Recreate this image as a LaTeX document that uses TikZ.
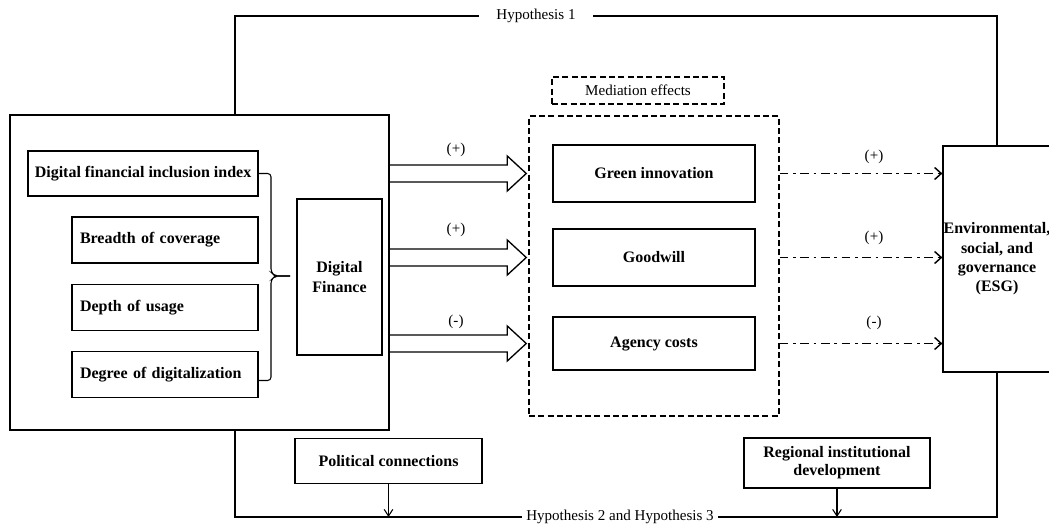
\documentclass[tikz,border=0pt]{standalone}
\usepackage{fontspec}
\setmainfont{Liberation Serif}
\usetikzlibrary{arrows.meta,calc}
\newcommand{\hollowarr}[2]{%
  \draw[line width=1pt,line join=miter]
    ($(#1)+(0,-8.5)$) -- ($(#2)+(-19,-8.5)$) -- ($(#2)+(-19,-17.5)$) -- (#2)
    -- ($(#2)+(-19,17.5)$) -- ($(#2)+(-19,8.5)$) -- ($(#1)+(0,8.5)$);}
\begin{document}
\begin{tikzpicture}[x=0.75pt,y=-0.75pt,
  box/.style={draw,line width=0.9pt,inner sep=0pt,font=\bfseries\fontsize{12}{14.5}\selectfont,align=center},
  lbox/.style={box,inner xsep=6pt,text width=127.5pt,align=left,minimum height=34.5pt},
  dbox/.style={draw,line width=1.1pt,dash pattern=on 4.5pt off 2.5pt,inner sep=0pt},
  lbl/.style={font=\fontsize{11.3}{13}\selectfont,inner sep=1pt},
  conn/.style={line width=0.9pt},
  dd/.style={line width=1.1pt,dash pattern=on 6.5pt off 3.5pt on 2pt off 3.5pt,-{Straight Barb[length=5pt,width=9pt,line width=1.1pt]}},
  down/.style={line width=0.8pt,-{Straight Barb[length=5pt,width=6.5pt]}},
]
\useasboundingbox (0,0) rectangle (1049,524);
\begin{scope}
\clip (0,0) rectangle (1049,524);
% left block
\node[box,minimum width=284.25pt,minimum height=236.25pt] (outer) at (199.5,272.5) {};
\node[box,minimum width=172.5pt,minimum height=33.75pt] (dfi) at (143,173.5) {Digital financial inclusion index};
\node[lbox] (bre) at (165,240) {Breadth of coverage};
\node[lbox] (dep) at (165,307.5) {Depth of usage};
\node[lbox] (deg) at (165,374.5) {Degree of digitalization};
\node[box,minimum width=63.75pt,minimum height=117pt,font=\bfseries\fontsize{12}{15}\selectfont] (df) at (339.5,277) {Digital\\Finance};
% brace
\coordinate (bt) at (290,276);
\draw[line width=0.8pt,rounded corners=2.5pt] (dfi.east) -- (271,173.5) -- (271,272) -- (275,276) -- (bt);
\draw[line width=0.8pt,rounded corners=2.5pt] ($(deg.east)+(0,6)$) -- (271,380.5) -- (271,280) -- (275,276) -- (bt);
% mediation
\node[dbox,minimum width=129pt,minimum height=20.25pt,lbl] (med) at (638,90.5) {Mediation effects};
\node[dbox,minimum width=187.5pt,minimum height=225pt] (big) at (654,266) {};
\node[box,minimum width=151.5pt,minimum height=42.75pt] (gi) at (654,173.5) {Green innovation};
\node[box,minimum width=151.5pt,minimum height=42.75pt] (gw) at (654,257.5) {Goodwill};
\node[box,minimum width=151.5pt,minimum height=39.75pt] (ac) at (654,343.5) {Agency costs};
% ESG
\node[box,minimum width=81pt,minimum height=169.5pt] (esg) at (997,259) {Environmental,\\social, and\\governance\\(ESG)};
% moderators
\node[box,minimum width=140.25pt,minimum height=33.75pt] (pol) at (388.5,461) {Political connections};
\node[box,minimum width=139.5pt,minimum height=37.5pt,font=\bfseries\fontsize{12}{13.5}\selectfont] (reg) at (837,463) {Regional institutional\\development};
% hollow arrows
\foreach \t/\n in {gi/1,gw/2,ac/3}{
  \coordinate (hs\n) at (outer.east |- \t);
  \coordinate (ht\n) at ($(big.west |- \t)+(-2,0)$);
  \hollowarr{hs\n}{ht\n}
}
\node[lbl] (p1) at (456,150) {(+)};
\node[lbl] (p2) at (456,230) {(+)};
\node[lbl] (p3) at (456,322) {(-)};
% dash-dot arrows
\foreach \t in {gi,gw,ac}{
  \draw[dd] (big.east |- \t) -- (esg.west |- \t);
}
\node[lbl] (q1) at (874,157) {(+)};
\node[lbl] (q2) at (874,238) {(+)};
\node[lbl] (q3) at (874,323) {(-)};
% hypothesis 1
\node[lbl,inner xsep=13pt,inner ysep=0pt] (h1) at (536,16) {Hypothesis 1};
\coordinate (ot) at (235,115);
\coordinate (ob) at (235,430);
\draw[conn] (ot) |- (h1.west);
\draw[conn] (h1.east) -| (esg.north);
% hypothesis 2 and 3
\node[lbl,inner xsep=3pt,inner ysep=0pt] (h23) at (620,517) {Hypothesis 2 and Hypothesis 3};
\draw[conn] (ob) |- (h23.west);
\draw[conn] (h23.east) -| (esg.south);
\draw[down] (pol.south) -- (pol.south |- h23);
\draw[down] (reg.south) -- (reg.south |- h23);
\end{scope}
\end{tikzpicture}
\end{document}
